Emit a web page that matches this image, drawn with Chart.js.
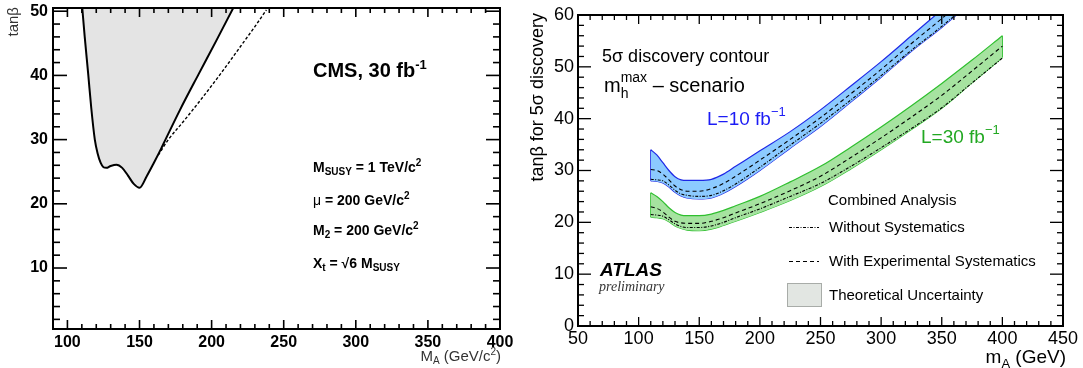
<!DOCTYPE html>
<html lang="fr">
<head>
<meta charset="utf-8">
<title>tanβ – mA : contours de découverte CMS / ATLAS</title>
<script src="https://cdn.jsdelivr.net/npm/chart.js@4.4.1/dist/chart.umd.min.js"></script>
<style>
  html, body { margin: 0; padding: 0; background: #fff; }
  .panel { position: absolute; top: 0; }
  #cms { left: 0; }
  #atlas { left: 520px; }
</style>
</head>
<body>
<canvas id="cms" class="panel" width="520" height="368"></canvas>
<canvas id="atlas" class="panel" width="563" height="368"></canvas>
<script>
const SANS = '"Liberation Sans", Arial, Helvetica, sans-serif';
const SERIF = '"Liberation Serif", "DejaVu Serif", serif';

// --- Panneau gauche : CMS, 30 fb-1 ---
const cmsTicksX = [100, 150, 200, 250, 300, 350, 400];
const cmsTicksY = [10, 20, 30, 40, 50];
// contour plein (zone grisée au-dessus)
const cmsMass = [110.3, 112, 114.5, 116.5, 119, 121, 123, 125, 127, 130, 134, 138, 142, 146, 150, 155, 160, 165, 168, 178, 191, 203, 215];
const cmsTanb = [50.5, 46, 40, 35, 30, 27.8, 26.4, 25.7, 25.6, 25.9, 26.1, 25.6, 24.4, 23.1, 22.5, 24.3, 26.4, 28.6, 30, 34.6, 40.2, 45.3, 50.5];
// contour pointillé
const cmsDashMass = [163, 170, 180, 190, 200, 210, 220, 230, 238];
const cmsDashTanb = [27.6, 30, 32.7, 35.5, 38.4, 41.4, 44.5, 47.6, 50.2];

// --- Panneau droit : ATLAS preliminary ---
const atlasTicksX = [50, 100, 150, 200, 250, 300, 350, 400, 450];
const atlasTicksY = [0, 10, 20, 30, 40, 50, 60];
// L = 10 fb-1
const mass10 = [110, 115, 120, 125, 130, 135, 140, 150, 160, 170, 180, 200, 225, 250, 275, 300, 325, 350, 370];
const band10Upper = [34, 33, 31.5, 30, 28.8, 28.2, 28.1, 28.1, 28.3, 29.3, 30.8, 33.8, 37.5, 41.7, 46.3, 51, 56, 61, 65];
const band10Lower = [28, 27.9, 27.6, 26.8, 25.8, 25.1, 24.7, 24.5, 24.7, 25.6, 26.9, 30, 34.3, 38.5, 43.2, 48, 53, 57.6, 61.6];
const syst10 = [30.2, 30, 29.3, 28.2, 27, 26.3, 26, 26, 26.5, 27.5, 28.9, 32, 36, 40.2, 44.8, 49.5, 54.5, 59.3, 63.3];
const noSyst10 = [28.3, 28.2, 28, 27.2, 26.2, 25.5, 25.2, 25, 25.2, 26.1, 27.4, 30.6, 34.9, 39.1, 43.6, 48.3, 53.2, 57.8, 61.8];
// L = 30 fb-1
const mass30 = [110, 115, 120, 125, 130, 135, 140, 150, 160, 170, 180, 200, 225, 250, 275, 300, 325, 350, 375, 400];
const band30Upper = [25.7, 25, 24, 22.8, 21.9, 21.4, 21.3, 21.3, 21.6, 22.3, 23.2, 25, 27.8, 30.8, 34.5, 38.4, 42.5, 46.8, 51.3, 56];
const band30Lower = [21, 20.9, 20.7, 20.1, 19.3, 18.8, 18.5, 18.4, 18.7, 19.4, 20.2, 21.9, 24.2, 26.9, 30.3, 34, 37.9, 42, 46.9, 51.8];
const syst30 = [23, 22.7, 22, 21, 20.2, 19.9, 19.8, 19.8, 20.2, 20.9, 21.8, 23.6, 26.1, 28.9, 32.5, 36.3, 40.3, 44.5, 49.2, 54];
const noSyst30 = [21.5, 21.4, 21.2, 20.5, 19.7, 19.2, 19, 19, 19.3, 20, 20.9, 22.6, 25, 27.5, 30.8, 34.4, 38.1, 42.1, 46.9, 51.7];

const BLUE_LINE = "#1e28e6";
const BLUE_FILL = "#8ccaff";
const GREEN_LINE = "#2fbf2f";
const GREEN_FILL = "#a6e3a0";

Chart.defaults.font.family = SANS;

function pts(xs, ys) {
  return xs.map((x, i) => ({ x, y: ys[i] }));
}

// bord vertical d'une bande (premier ou dernier point)
function edge(xs, lo, up, i) {
  return [{ x: xs[i], y: lo[i] }, { x: xs[i], y: up[i] }];
}

// --- texte avec indices / exposants ---
function partFont(item, p) {
  const style = (p.italic ?? item.italic) ? "italic " : "";
  const weight = (p.bold ?? item.bold) ? "bold " : "";
  const size = p.size || item.size;
  return style + weight + size + "px " + (p.family || item.family || SANS);
}

function drawRich(ctx, item) {
  ctx.save();
  ctx.translate(item.x, item.y);
  if (item.rotate) ctx.rotate(item.rotate);
  ctx.fillStyle = item.color || "#000";
  ctx.textBaseline = "alphabetic";
  ctx.textAlign = "left";

  const pieces = item.parts.map(p => (p.stack || [p]).map(s => Object.assign({}, p, s)));
  const widths = pieces.map(list => Math.max(...list.map(q => {
    ctx.font = partFont(item, q);
    return ctx.measureText(q.t).width;
  })));
  const total = widths.reduce((a, b) => a + b, 0);
  let cx = item.align === "right" ? -total : item.align === "center" ? -total / 2 : 0;

  pieces.forEach((list, i) => {
    list.forEach(q => {
      ctx.font = partFont(item, q);
      ctx.fillText(q.t, cx, q.dy || 0);
    });
    cx += widths[i];
  });
  ctx.restore();
}

function notes(items) {
  return {
    id: "notes",
    afterDraw(chart) {
      items.forEach(it => drawRich(chart.ctx, it));
    }
  };
}

// graduations intérieures sur les quatre côtés + cadre
function innerTicks(o) {
  return {
    id: "innerTicks",
    afterDraw(chart) {
      const ctx = chart.ctx;
      const a = chart.chartArea;
      const sx = chart.scales.x, sy = chart.scales.y;
      ctx.save();
      ctx.setLineDash([]);
      ctx.globalAlpha = 1;
      ctx.strokeStyle = "#000";
      ctx.lineCap = "butt";
      ctx.lineWidth = o.tickWidth;
      const tick = (x0, y0, x1, y1) => {
        ctx.beginPath();
        ctx.moveTo(x0, y0);
        ctx.lineTo(x1, y1);
        ctx.stroke();
      };
      for (let v = Math.ceil(sx.min / o.xStep) * o.xStep; v <= sx.max + 1e-6; v += o.xStep) {
        const px = sx.getPixelForValue(v);
        const len = v % o.xMajor === 0 ? o.xLong : o.xShort;
        tick(px, a.bottom, px, a.bottom - len);
        tick(px, a.top, px, a.top + len);
      }
      for (let v = Math.ceil(sy.min / o.yStep) * o.yStep; v <= sy.max + 1e-6; v += o.yStep) {
        const py = sy.getPixelForValue(v);
        const len = v % o.yMajor === 0 ? o.yLong : o.yShort;
        tick(a.left, py, a.left + len, py);
        tick(a.right, py, a.right - len, py);
      }
      ctx.lineWidth = o.frameWidth;
      ctx.strokeRect(a.left, a.top, a.right - a.left, a.bottom - a.top);
      ctx.restore();
    }
  };
}

function fixedAxis(ticks, size) {
  return {
    afterBuildTicks: s => { s.ticks = ticks.map(v => ({ value: v })); },
    afterFit: s => {
      if (s.isHorizontal()) s.height = size; else s.width = size;
      s.paddingLeft = s.paddingRight = s.paddingTop = s.paddingBottom = 0;
    }
  };
}

const baseOptions = {
  responsive: false,
  animation: false,
  events: [],
  elements: { point: { radius: 0 } },
  plugins: { legend: { display: false }, tooltip: { enabled: false } }
};

// ---------------- CMS ----------------
const cmsFont = { family: SANS, size: 16, weight: "bold" };

new Chart(document.getElementById("cms"), {
  type: "line",
  data: {
    datasets: [
      {
        data: pts(cmsMass, cmsTanb),
        borderColor: "#000",
        borderWidth: 2,
        backgroundColor: "#e4e4e4",
        fill: "end",
        cubicInterpolationMode: "monotone"
      },
      {
        data: pts(cmsDashMass, cmsDashTanb),
        borderColor: "#000",
        borderWidth: 1.4,
        borderDash: [3, 2],
        fill: false,
        cubicInterpolationMode: "monotone"
      }
    ]
  },
  options: {
    ...baseOptions,
    layout: { padding: { top: 8, right: 20, left: 0, bottom: 0 } },
    scales: {
      x: {
        type: "linear", min: 90, max: 400,
        grid: { display: false, drawTicks: false },
        border: { display: false },
        ticks: { font: cmsFont, color: "#000", padding: 4, maxRotation: 0, autoSkip: false },
        ...fixedAxis(cmsTicksX, 39)
      },
      y: {
        type: "linear", min: 0.5, max: 50.5,
        grid: { display: false, drawTicks: false },
        border: { display: false },
        ticks: { font: cmsFont, color: "#000", padding: 5, autoSkip: false },
        ...fixedAxis(cmsTicksY, 53)
      }
    }
  },
  plugins: [
    innerTicks({ xStep: 10, xMajor: 50, xLong: 9, xShort: 5, yStep: 2, yMajor: 10, yLong: 14, yShort: 7, tickWidth: 1.6, frameWidth: 2 }),
    notes([
      { x: 313, y: 77, size: 20, bold: true, parts: [{ t: "CMS, 30 fb" }, { t: "-1", size: 13, dy: -8 }] },
      { x: 313, y: 172, size: 14, bold: true, parts: [{ t: "M" }, { t: "SUSY", size: 10, dy: 3 }, { t: " = 1 TeV/c" }, { t: "2", size: 10, dy: -6 }] },
      { x: 313, y: 205, size: 14, bold: true, parts: [{ t: "μ", bold: false }, { t: " = 200 GeV/c" }, { t: "2", size: 10, dy: -6 }] },
      { x: 313, y: 235, size: 14, bold: true, parts: [{ t: "M" }, { t: "2", size: 10, dy: 3 }, { t: " = 200 GeV/c" }, { t: "2", size: 10, dy: -6 }] },
      { x: 313, y: 268, size: 14, bold: true, parts: [{ t: "X" }, { t: "t", size: 10, dy: 3 }, { t: " = √6 M" }, { t: "SUSY", size: 10, dy: 3 }] },
      // titres des axes
      { x: 18, y: 7, size: 15, color: "#333", rotate: -Math.PI / 2, align: "right", parts: [{ t: "tanβ" }] },
      { x: 501, y: 361, size: 15, color: "#333", align: "right", parts: [{ t: "M" }, { t: "A", size: 10, dy: 3 }, { t: " (GeV/c" }, { t: "2", size: 10, dy: -6 }, { t: ")" }] }
    ])
  ]
});

// ---------------- ATLAS ----------------
const atlasFont = { family: SANS, size: 18 };

function bandSet(xs, ys, line, fillColor, fill) {
  return {
    data: pts(xs, ys), borderColor: line, borderWidth: 1.2,
    backgroundColor: fillColor, fill: fill, order: 2,
    cubicInterpolationMode: "monotone"
  };
}

function curveSet(xs, ys, dash) {
  return {
    data: pts(xs, ys), borderColor: "#000", borderWidth: 1.1,
    borderDash: dash, fill: false, order: 1,
    cubicInterpolationMode: "monotone"
  };
}

function edgeSet(data, line) {
  return { data, borderColor: line, borderWidth: 1.2, fill: false, order: 2 };
}

const DASH = [4, 3];
const DASH_DOT = [3, 1.5, 1, 1.5];

const atlasLegend = {
  id: "atlasLegend",
  afterDraw(chart) {
    const ctx = chart.ctx;
    ctx.save();
    ctx.strokeStyle = "#000";
    ctx.lineWidth = 1.1;
    ctx.setLineDash(DASH_DOT);
    ctx.beginPath(); ctx.moveTo(269, 227.5); ctx.lineTo(299, 227.5); ctx.stroke();
    ctx.setLineDash(DASH);
    ctx.beginPath(); ctx.moveTo(269, 261.5); ctx.lineTo(299, 261.5); ctx.stroke();
    ctx.setLineDash([]);
    ctx.fillStyle = "#e2e6e2";
    ctx.fillRect(267, 283, 34, 23);
    ctx.strokeStyle = "#a8aca8";
    ctx.lineWidth = 1;
    ctx.strokeRect(267.5, 283.5, 34, 23);
    ctx.restore();
  }
};

new Chart(document.getElementById("atlas"), {
  type: "line",
  data: {
    datasets: [
      bandSet(mass10, band10Upper, BLUE_LINE, BLUE_FILL, "+1"),
      bandSet(mass10, band10Lower, BLUE_LINE, BLUE_FILL, false),
      bandSet(mass30, band30Upper, GREEN_LINE, GREEN_FILL, "+1"),
      bandSet(mass30, band30Lower, GREEN_LINE, GREEN_FILL, false),
      edgeSet(edge(mass10, band10Lower, band10Upper, 0), BLUE_LINE),
      edgeSet(edge(mass30, band30Lower, band30Upper, 0), GREEN_LINE),
      edgeSet(edge(mass30, band30Lower, band30Upper, mass30.length - 1), GREEN_LINE),
      curveSet(mass10, syst10, DASH),
      curveSet(mass10, noSyst10, DASH_DOT),
      curveSet(mass30, syst30, DASH),
      curveSet(mass30, noSyst30, DASH_DOT)
    ]
  },
  options: {
    ...baseOptions,
    layout: { padding: { top: 15, right: 20, left: 0, bottom: 0 } },
    scales: {
      x: {
        type: "linear", min: 50, max: 450,
        grid: { display: false, drawTicks: false },
        border: { display: false },
        ticks: { font: atlasFont, color: "#000", padding: 2, maxRotation: 0, autoSkip: false },
        ...fixedAxis(atlasTicksX, 42)
      },
      y: {
        type: "linear", min: 0, max: 60,
        grid: { display: false, drawTicks: false },
        border: { display: false },
        ticks: { font: atlasFont, color: "#000", padding: 4, autoSkip: false },
        ...fixedAxis(atlasTicksY, 58)
      }
    }
  },
  plugins: [
    innerTicks({ xStep: 10, xMajor: 50, xLong: 9, xShort: 5, yStep: 2, yMajor: 10, yLong: 13, yShort: 6, tickWidth: 1.3, frameWidth: 2 }),
    atlasLegend,
    notes([
      { x: 82, y: 62, size: 18, parts: [{ t: "5σ discovery contour" }] },
      { x: 84, y: 92, size: 20, parts: [{ t: "m" }, { size: 14, stack: [{ t: "max", dy: -10 }, { t: "h", dy: 6 }] }, { t: " – scenario" }] },
      { x: 187, y: 125, size: 19, color: "#1c1cf5", parts: [{ t: "L=10 fb" }, { t: "−1", size: 13, dy: -9 }] },
      { x: 401, y: 143, size: 19, color: "#22a822", parts: [{ t: "L=30 fb" }, { t: "−1", size: 13, dy: -9 }] },
      { x: 308, y: 205, size: 15, parts: [{ t: "Combined Analysis" }] },
      { x: 309, y: 232, size: 15, parts: [{ t: "Without Systematics" }] },
      { x: 309, y: 266, size: 15, parts: [{ t: "With Experimental Systematics" }] },
      { x: 309, y: 300, size: 15, parts: [{ t: "Theoretical Uncertainty" }] },
      { x: 80, y: 276, size: 19, bold: true, italic: true, parts: [{ t: "ATLAS" }] },
      { x: 79, y: 291, size: 14, italic: true, family: SERIF, color: "#333", parts: [{ t: "preliminary" }] },
      // titres des axes
      { x: 23, y: 13, size: 18, rotate: -Math.PI / 2, align: "right", parts: [{ t: "tanβ for 5σ discovery" }] },
      { x: 546, y: 363, size: 19, align: "right", parts: [{ t: "m" }, { t: "A", size: 13, dy: 5 }, { t: " (GeV)" }] }
    ])
  ]
});
</script>
</body>
</html>
